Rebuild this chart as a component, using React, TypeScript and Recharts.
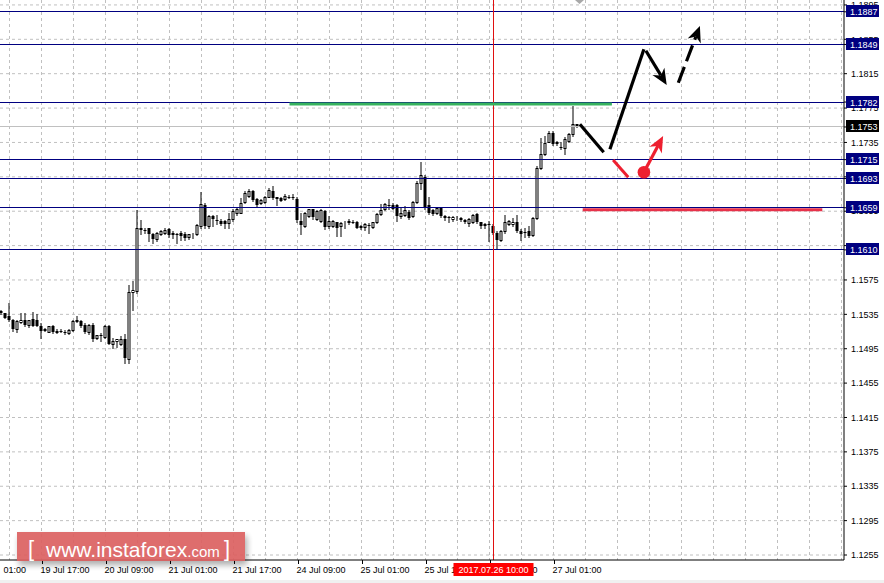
import React from 'react';
import { ComposedChart, Bar, XAxis, YAxis, CartesianGrid, ReferenceLine, ReferenceDot } from 'recharts';

// ---- EURUSD H1 candles (index 0 = first visible bar) ----
const opens = [
  1.1539, 1.1536, 1.1533, 1.1529, 1.1518, 1.1526, 1.1529, 1.1523, 1.1530, 1.1529,
  1.1522, 1.1518, 1.1515, 1.1522, 1.1515, 1.1516, 1.1515, 1.1513, 1.1517, 1.1527,
  1.1527, 1.1523, 1.1515, 1.1523, 1.1508, 1.1511, 1.1509, 1.1522, 1.1500, 1.1504,
  1.1501, 1.1506, 1.1483, 1.1561, 1.1562, 1.1636, 1.1633, 1.1635, 1.1629, 1.1623,
  1.1628, 1.1630, 1.1634, 1.1630, 1.1629, 1.1630, 1.1629, 1.1625, 1.1628, 1.1628,
  1.1638, 1.1662, 1.1638, 1.1650, 1.1645, 1.1644, 1.1644, 1.1641, 1.1646, 1.1653,
  1.1653, 1.1666, 1.1673, 1.1679, 1.1669, 1.1664, 1.1666, 1.1671, 1.1679, 1.1671,
  1.1670, 1.1669, 1.1672, 1.1672, 1.1669, 1.1644, 1.1638, 1.1649, 1.1657, 1.1646,
  1.1644, 1.1655, 1.1638, 1.1638, 1.1642, 1.1638, 1.1642, 1.1643, 1.1643, 1.1643,
  1.1637, 1.1637, 1.1639, 1.1637, 1.1642, 1.1652, 1.1657, 1.1662, 1.1662, 1.1662,
  1.1650, 1.1651, 1.1654, 1.1649, 1.1666, 1.1688, 1.1695, 1.1662, 1.1656, 1.1653,
  1.1659, 1.1650, 1.1648, 1.1646, 1.1647, 1.1646, 1.1645, 1.1641, 1.1643, 1.1652,
  1.1642, 1.1639, 1.1640, 1.1638, 1.1630, 1.1621, 1.1632, 1.1640, 1.1640, 1.1642,
  1.1632, 1.1631, 1.1632, 1.1627, 1.1647, 1.1705, 1.1721, 1.1736, 1.1746, 1.1736,
  1.1730, 1.1729, 1.1737, 1.1745, 1.1757,
];
const highs = [
  1.1540, 1.1537, 1.1548, 1.1530, 1.1529, 1.1537, 1.1537, 1.1529, 1.1538, 1.1535,
  1.1525, 1.1519, 1.1522, 1.1523, 1.1518, 1.1518, 1.1517, 1.1518, 1.1528, 1.1533,
  1.1529, 1.1525, 1.1524, 1.1525, 1.1511, 1.1513, 1.1523, 1.1523, 1.1508, 1.1506,
  1.1510, 1.1512, 1.1569, 1.1574, 1.1656, 1.1645, 1.1636, 1.1636, 1.1630, 1.1631,
  1.1633, 1.1635, 1.1635, 1.1632, 1.1630, 1.1632, 1.1631, 1.1629, 1.1630, 1.1640,
  1.1677, 1.1665, 1.1651, 1.1651, 1.1651, 1.1646, 1.1645, 1.1653, 1.1657, 1.1660,
  1.1670, 1.1678, 1.1681, 1.1680, 1.1670, 1.1669, 1.1673, 1.1682, 1.1684, 1.1672,
  1.1671, 1.1675, 1.1674, 1.1675, 1.1671, 1.1653, 1.1654, 1.1658, 1.1658, 1.1656,
  1.1657, 1.1656, 1.1649, 1.1645, 1.1643, 1.1643, 1.1644, 1.1646, 1.1645, 1.1644,
  1.1639, 1.1641, 1.1641, 1.1643, 1.1653, 1.1663, 1.1664, 1.1669, 1.1664, 1.1663,
  1.1659, 1.1661, 1.1656, 1.1667, 1.1690, 1.1712, 1.1697, 1.1671, 1.1657, 1.1660,
  1.1660, 1.1651, 1.1649, 1.1649, 1.1649, 1.1648, 1.1646, 1.1647, 1.1652, 1.1653,
  1.1643, 1.1641, 1.1644, 1.1640, 1.1632, 1.1633, 1.1651, 1.1645, 1.1647, 1.1651,
  1.1634, 1.1636, 1.1638, 1.1648, 1.1708, 1.1740, 1.1742, 1.1748, 1.1748, 1.1737,
  1.1735, 1.1741, 1.1746, 1.1777, 1.1757,
];
const lows = [
  1.1535, 1.1531, 1.1527, 1.1516, 1.1515, 1.1525, 1.1521, 1.1520, 1.1521, 1.1521,
  1.1508, 1.1516, 1.1514, 1.1513, 1.1513, 1.1514, 1.1512, 1.1512, 1.1516, 1.1526,
  1.1520, 1.1513, 1.1512, 1.1504, 1.1506, 1.1504, 1.1508, 1.1500, 1.1496, 1.1497,
  1.1499, 1.1478, 1.1478, 1.1540, 1.1560, 1.1628, 1.1630, 1.1620, 1.1618, 1.1620,
  1.1627, 1.1629, 1.1625, 1.1624, 1.1618, 1.1622, 1.1622, 1.1623, 1.1624, 1.1627,
  1.1636, 1.1636, 1.1636, 1.1638, 1.1640, 1.1639, 1.1636, 1.1636, 1.1644, 1.1651,
  1.1653, 1.1665, 1.1672, 1.1667, 1.1661, 1.1663, 1.1665, 1.1671, 1.1669, 1.1662,
  1.1667, 1.1668, 1.1670, 1.1669, 1.1642, 1.1628, 1.1637, 1.1648, 1.1646, 1.1645,
  1.1643, 1.1634, 1.1635, 1.1637, 1.1626, 1.1626, 1.1636, 1.1640, 1.1641, 1.1635,
  1.1634, 1.1633, 1.1630, 1.1636, 1.1641, 1.1651, 1.1656, 1.1657, 1.1657, 1.1644,
  1.1647, 1.1649, 1.1646, 1.1648, 1.1665, 1.1681, 1.1658, 1.1652, 1.1651, 1.1652,
  1.1648, 1.1645, 1.1642, 1.1644, 1.1645, 1.1644, 1.1641, 1.1638, 1.1641, 1.1641,
  1.1636, 1.1636, 1.1620, 1.1628, 1.1612, 1.1620, 1.1630, 1.1639, 1.1638, 1.1631,
  1.1622, 1.1625, 1.1625, 1.1626, 1.1646, 1.1704, 1.1720, 1.1735, 1.1732, 1.1732,
  1.1727, 1.1721, 1.1736, 1.1743, 1.1753,
];
const closes = [
  1.1536, 1.1531, 1.1528, 1.1518, 1.1527, 1.1528, 1.1523, 1.1529, 1.1522, 1.1522,
  1.1516, 1.1516, 1.1521, 1.1514, 1.1516, 1.1515, 1.1514, 1.1517, 1.1527, 1.1529,
  1.1521, 1.1515, 1.1523, 1.1506, 1.1511, 1.1510, 1.1522, 1.1500, 1.1504, 1.1506,
  1.1506, 1.1484, 1.1561, 1.1563, 1.1635, 1.1633, 1.1632, 1.1629, 1.1623, 1.1630,
  1.1632, 1.1633, 1.1627, 1.1627, 1.1628, 1.1626, 1.1624, 1.1628, 1.1629, 1.1639,
  1.1663, 1.1638, 1.1649, 1.1646, 1.1644, 1.1640, 1.1640, 1.1646, 1.1655, 1.1657,
  1.1665, 1.1676, 1.1679, 1.1668, 1.1662, 1.1668, 1.1672, 1.1680, 1.1670, 1.1669,
  1.1667, 1.1673, 1.1671, 1.1670, 1.1645, 1.1639, 1.1653, 1.1657, 1.1648, 1.1655,
  1.1656, 1.1637, 1.1644, 1.1644, 1.1636, 1.1641, 1.1643, 1.1644, 1.1642, 1.1636,
  1.1638, 1.1640, 1.1638, 1.1642, 1.1652, 1.1656, 1.1663, 1.1661, 1.1657, 1.1650,
  1.1653, 1.1656, 1.1647, 1.1666, 1.1688, 1.1697, 1.1659, 1.1653, 1.1652, 1.1659,
  1.1649, 1.1647, 1.1647, 1.1648, 1.1647, 1.1647, 1.1642, 1.1646, 1.1651, 1.1642,
  1.1638, 1.1640, 1.1639, 1.1630, 1.1622, 1.1632, 1.1642, 1.1644, 1.1643, 1.1632,
  1.1628, 1.1630, 1.1626, 1.1647, 1.1705, 1.1722, 1.1734, 1.1746, 1.1733, 1.1733,
  1.1729, 1.1739, 1.1745, 1.1756, 1.1753,
];

// ---- axes ----
const priceTicks = [
  1.1255, 1.1295, 1.1335, 1.1375, 1.1415, 1.1455, 1.1495, 1.1535, 1.1575,
  1.1615, 1.1655, 1.1695, 1.1735, 1.1775, 1.1815, 1.1855, 1.1895,
];
const gridBars = [
  -6, 2, 10, 18, 26, 34, 42, 50, 58, 66, 74, 82, 90, 98, 106, 114, 122, 130, 138,
  146, 154, 162, 170, 178, 186, 194, 202, 210,
];
const timeLabelBars = [-6, 10, 26, 42, 58, 74, 90, 106, 122, 138];
const timeLabels = [
  '19 Jul 01:00', '19 Jul 17:00', '20 Jul 09:00', '21 Jul 01:00', '21 Jul 17:00',
  '24 Jul 09:00', '25 Jul 01:00', '25 Jul 17:00', '26 Jul 09:00', '27 Jul 01:00',
];

// ---- horizontal levels ----
const levelPrices = [1.1887, 1.1849, 1.1782, 1.1715, 1.1693, 1.1659, 1.1610];
const bidPrice = 1.1753;
const crossBar = 123;
const crossLabel = '2017.07.26 10:00';

// ---- drawn annotations (bar index, price) ----
const greenLevel = { from: 72, to: 152.6, price: 1.17797 };
const redLevel = { from: 145.3, to: 205.2, price: 1.16566 };
const blackPath = [
  [{ x: 144.6, y: 1.17561 }, { x: 150.55, y: 1.17235 }],
  [{ x: 152.1, y: 1.1727 }, { x: 160.6, y: 1.18434 }],
];
const blackArrow = [{ x: 161.1, y: 1.18417 }, { x: 166.3, y: 1.18018 }];
const blackDashedArrow = [{ x: 169.2, y: 1.18045 }, { x: 174.6, y: 1.18705 }];
const redPath = [{ x: 152.9, y: 1.17146 }, { x: 156.7, y: 1.16944 }];
const redDot = { x: 160.6, y: 1.17003 };
const redArrow = [{ x: 160.6, y: 1.17003 }, { x: 165.4, y: 1.17425 }];

const data = opens.map((o, i) => ({
  i,
  o,
  h: highs[i],
  l: lows[i],
  c: closes[i],
  range: [lows[i], highs[i]],
}));

// axis tick lists: plain ticks first, tagged ticks last so that tags paint on top
const yAxisTicks = [...priceTicks, bidPrice, ...levelPrices];
const xAxisTicks = [...gridBars, crossBar];

const FONT = '"Liberation Sans", Arial, sans-serif';
const NAVY = '#000080';

const Candle = (props: any) => {
  const { x, y, width, height, payload } = props;
  if (!payload) return null;
  const { o, h, l, c } = payload;
  const top = Math.min(y, y + height);
  const hgt = Math.abs(height);
  const ratio = h - l === 0 ? 0 : hgt / (h - l);
  const yOf = (v: number) => top + (h - v) * ratio;
  const cx = x + width / 2;
  const bt = Math.round(yOf(Math.max(o, c)));
  const bb = Math.round(yOf(Math.min(o, c)));
  const wt = Math.round(yOf(h));
  const wb = Math.round(yOf(l));
  const bull = c >= o;
  return (
    <g>
      <line x1={cx} x2={cx} y1={wt} y2={wb + 1} stroke="#000" strokeWidth={1} />
      {bull ? (
        <rect x={cx - 1} y={bt + 0.5} width={2} height={Math.max(bb - bt, 0)} fill="#fff" stroke="#000" strokeWidth={1} />
      ) : (
        <rect x={cx - 1.5} y={bt} width={3} height={Math.max(bb - bt, 1)} fill="#000" />
      )}
    </g>
  );
};

const snap = (v: number) => Math.floor(v) + 0.5;

const crispH = (color: string) => (p: any) => (
  <line x1={p.x1} x2={p.x2} y1={snap(p.y1)} y2={snap(p.y2)} stroke={color} strokeWidth={1} />
);

const PriceTick = (p: any) => {
  const { x, y, payload } = p;
  const v = payload.value;
  const isLevel = levelPrices.indexOf(v) >= 0;
  const isBid = v === bidPrice;
  if (isLevel || isBid) {
    const yy = snap(y);
    return (
      <g>
        <rect x={x - 5} y={yy - 6.5} width={33} height={12} fill={isBid ? '#000' : NAVY} />
        <text x={x - 1} y={yy} dy="0.36em" fill="#fff" fontSize={9} fontFamily={FONT}>{v.toFixed(4)}</text>
      </g>
    );
  }
  return (
    <text x={x} y={y} dy="0.36em" fill="#000" fontSize={9} fontFamily={FONT}>{v.toFixed(4)}</text>
  );
};

const TimeTick = (p: any) => {
  const { x, y, payload } = p;
  if (payload.value === crossBar) {
    return (
      <g>
        <rect x={x - 40} y={y + 3} width={80} height={13} fill="#ff0000" />
        <text x={x} y={y + 12.7} textAnchor="middle" fill="#fff" fontSize={9} fontFamily={FONT}>{crossLabel}</text>
      </g>
    );
  }
  const k = timeLabelBars.indexOf(payload.value);
  if (k < 0) return null;
  const label = timeLabels[k];
  if (x < 0) {
    // only the visible tail of a label that starts left of the window
    const tail = label.slice(label.indexOf(' ', 3) + 1);
    return (
      <text x={x + 48.5} y={y + 12.7} textAnchor="end" fill="#000" fontSize={9} fontFamily={FONT}>{tail}</text>
    );
  }
  return (
    <g>
      <line x1={Math.round(x) + 0.5} x2={Math.round(x) + 0.5} y1={y} y2={y + 4} stroke="#000" />
      <text x={x - 1} y={y + 12.7} fill="#000" fontSize={9} fontFamily={FONT}>{label}</text>
    </g>
  );
};

const arrowShape = (color: string, dashed: boolean) => (p: any) => {
  const { x1, y1, x2, y2 } = p;
  const dx = x2 - x1;
  const dy = y2 - y1;
  const len = Math.hypot(dx, dy) || 1;
  const ux = dx / len;
  const uy = dy / len;
  const hl = 16;
  const hw = 7;
  const bx = x2 - ux * hl;
  const by = y2 - uy * hl;
  const nx = x2 - ux * hl * 0.7;
  const ny = y2 - uy * hl * 0.7;
  const pts = `${x2},${y2} ${bx + uy * hw},${by - ux * hw} ${nx},${ny} ${bx - uy * hw},${by + ux * hw}`;
  return (
    <g>
      <line x1={x1} y1={y1} x2={nx} y2={ny} stroke={color} strokeWidth={3.2} strokeDasharray={dashed ? '17 6' : undefined} />
      <polygon points={pts} fill={color} />
    </g>
  );
};

export default function App() {
  return (
    <div style={{ position: 'absolute', left: 0, top: 0, width: 884, height: 583, background: '#fff', overflow: 'hidden' }}>
      <ComposedChart width={884} height={583} data={data} margin={{ top: 0, right: 0, bottom: 0, left: 0 }}>
        <CartesianGrid
          stroke="#c0c0c0"
          strokeDasharray="3 3"
          horizontalValues={priceTicks}
          verticalValues={gridBars}
        />
        <XAxis
          type="number"
          dataKey="i"
          domain={[-0.375, 210.625]}
          allowDataOverflow
          ticks={xAxisTicks}
          interval={0}
          height={23}
          tickSize={0}
          tickMargin={0}
          tickLine={false}
          axisLine={{ stroke: '#000' }}
          tick={<TimeTick />}
        />
        <YAxis
          orientation="right"
          width={40}
          domain={[1.124919, 1.190073]}
          allowDataOverflow
          ticks={yAxisTicks}
          interval={0}
          tickSize={3}
          tickMargin={4}
          tick={<PriceTick />}
          axisLine={{ stroke: '#000' }}
          tickLine={{ stroke: '#000' }}
        />
        <ReferenceLine y={bidPrice} shape={crispH('#c0c0c0')} />
        {levelPrices.map((v) => (
          <ReferenceLine key={v} y={v} shape={crispH(NAVY)} />
        ))}
        <ReferenceLine x={crossBar} stroke="#e01010" strokeWidth={1} />
        <Bar dataKey="range" barSize={3} shape={<Candle />} isAnimationActive={false} />
        <ReferenceLine
          segment={[{ x: greenLevel.from, y: greenLevel.price }, { x: greenLevel.to, y: greenLevel.price }]}
          stroke="#36b35e"
          strokeWidth={3}
        />
        <ReferenceLine
          segment={[{ x: redLevel.from, y: redLevel.price }, { x: redLevel.to, y: redLevel.price }]}
          stroke="#e8324a"
          strokeWidth={3}
        />
        {blackPath.map((seg, k) => (
          <ReferenceLine key={'b' + k} segment={seg} stroke="#000" strokeWidth={3.2} />
        ))}
        <ReferenceLine segment={blackArrow} shape={arrowShape('#000', false)} />
        <ReferenceLine segment={blackDashedArrow} shape={arrowShape('#000', true)} />
        <ReferenceLine segment={redPath} stroke="#ee2030" strokeWidth={3} />
        <ReferenceLine segment={redArrow} shape={arrowShape('#ee2030', false)} />
        <ReferenceDot x={redDot.x} y={redDot.y} r={6.3} fill="#ee2030" stroke="none" />
      </ComposedChart>
      <svg width={884} height={583} style={{ position: 'absolute', left: 0, top: 0, pointerEvents: 'none' }}>
        <polygon points="575,0 584,0 579.5,4" fill="#a8a8a8" />
        <rect x={0} y={580} width={884} height={3} fill="#f0f0f0" />
        <defs>
          <filter id="wmShadow" x="-10%" y="-30%" width="130%" height="180%">
            <feDropShadow dx="2" dy="4" stdDeviation="3" floodColor="#000" floodOpacity="0.35" />
          </filter>
        </defs>
        <rect x={17} y={532} width={228} height={29} fill="#dc6262" opacity={0.93} filter="url(#wmShadow)" />
        <text x={28} y={556} fill="#fff" fontSize={22} fontFamily={FONT} fontWeight={300}>[</text>
        <text x={46} y={557} fill="#fff" fontFamily={FONT}>
          <tspan fontSize={21}>www.instaforex</tspan>
          <tspan fontSize={15}>.com</tspan>
        </text>
        <text x={224} y={556} fill="#fff" fontSize={22} fontFamily={FONT} fontWeight={300}>]</text>
      </svg>
    </div>
  );
}
